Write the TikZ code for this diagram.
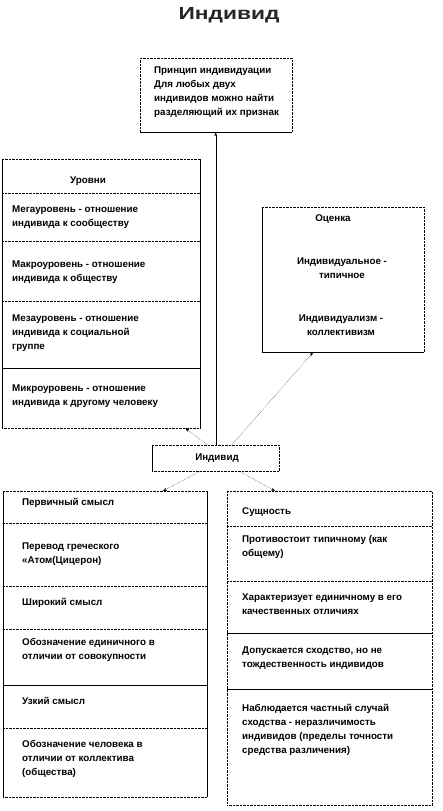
\documentclass[tikz,border=0pt]{standalone}
\usepackage{fontspec}
\setmainfont{Liberation Sans}
\newfontfamily\titlefont[FakeStretch=1.3]{Liberation Sans}
\usetikzlibrary{arrows.meta}

\begin{document}
\begin{tikzpicture}[x=1pt,y=-1pt,>={Stealth[length=4pt,width=3pt]},
    frame/.style={draw,densely dotted,anchor=north west,inner sep=0pt},
    txt/.style={anchor=west,align=left,inner sep=0pt,
        font=\fontsize{9.8}{14}\selectfont\bfseries},
    link/.style={densely dotted,->}]
    \useasboundingbox[fill=white] (0,0) rectangle (442,811);

    \node[font=\titlefont\fontsize{17.5}{20}\selectfont\bfseries,text=black!85] (title) at (229,15) {Индивид};

    % frames
    \node[frame,minimum width=152,minimum height=74] (princip) at (140,58) {};
    \node[frame,minimum width=198,minimum height=269] (levels) at (2,159) {};
    \node[frame,minimum width=162,minimum height=145] (ocenka) at (262,207) {};
    \node[frame,minimum width=127,minimum height=26] (ind) at (152,445) {};
    \node[frame,minimum width=204,minimum height=306] (meaning) at (3,491) {};
    \node[frame,minimum width=205,minimum height=314] (essence) at (227,491) {};

    % solid edges
    \draw (princip.south west) -- (princip.south east);
    \draw (levels.north west) -- (levels.south west);
    \draw (levels.north east) -- (levels.south east);
    \draw (ocenka.north west) -- (ocenka.south west) -- (ocenka.south east);
    \draw (ind.north west) -- (ind.south west);
    \draw (meaning.north west) -- (meaning.south west);
    \draw (meaning.north east) -- (meaning.south east);

    % separators
    \foreach \yy in {193,241,301}{
        \draw[densely dotted] (2,\yy) -- (200,\yy);
    }
    \draw (2,368) -- (200,368);
    \foreach \yy in {523,586,629,728}{
        \draw[densely dotted] (3,\yy) -- (207,\yy);
    }
    \draw (3,685) -- (207,685);
    \foreach \yy in {526,581}{
        \draw[densely dotted] (227,\yy) -- (432,\yy);
    }
    \foreach \yy in {633,689}{
        \draw (227,\yy) -- (432,\yy);
    }

    % texts
    \node[txt] (t1) at (154,92) {Принцип индивидуации\\Для любых двух\\индивидов можно найти\\разделяющий их признак};

    \node[txt,anchor=center] (l0) at (88,181) {Уровни};
    \node[txt] (l1) at (12,217) {Мегауровень - отношение\\индивида к сообществу};
    \node[txt] (l2) at (12,272) {Макроуровень - отношение\\индивида к обществу};
    \node[txt] (l3) at (12,333) {Мезауровень - отношение\\индивида к социальной\\группе};
    \node[txt] (l4) at (12,396) {Микроуровень - отношение\\индивида к другому человеку};

    \node[txt,anchor=center] (o0) at (333,219) {Оценка};
    \node[txt,anchor=center,align=center] (o1) at (342,268) {Индивидуальное -\\типичное};
    \node[txt,anchor=center,align=center] (o2) at (341,325) {Индивидуализм -\\коллективизм};

    \node[txt,anchor=center] (i0) at (217,458) {Индивид};

    \node[txt] (m1) at (22,503) {Первичный смысл};
    \node[txt] (m2) at (22,554) {Перевод греческого\\«Атом(Цицерон)};
    \node[txt] (m3) at (22,603) {Широкий смысл};
    \node[txt] (m4) at (22,650) {Обозначение единичного в\\отличии от совокупности};
    \node[txt] (m5) at (22,701) {Узкий смысл};
    \node[txt] (m6) at (22,759) {Обозначение человека в\\отличии от коллектива\\(общества)};

    \node[txt] (e1) at (242,512) {Сущность};
    \node[txt] (e2) at (242,547) {Противостоит типичному (как\\общему)};
    \node[txt] (e3) at (242,604) {Характеризует единичному в его\\качественных отличиях};
    \node[txt] (e4) at (242,658) {Допускается сходство, но не\\тождественность индивидов};
    \node[txt] (e5) at (242,730) {Наблюдается частный случай\\сходства - неразличимость\\индивидов (пределы точности\\средства различения)};

    % connectors
    \draw[->] (ind.north) -- (ind.north |- princip.south);
    \draw[link] ([xshift=-8]ind.north) -- ([xshift=-15]levels.south east);
    \draw[link] ([xshift=16]ind.north) -- ([xshift=51]ocenka.south west);
    \draw[link] ([xshift=-16]ind.south) -- ([xshift=160]meaning.north west);
    \draw[link] ([xshift=24]ind.south) -- ([xshift=48]essence.north west);
\end{tikzpicture}
\end{document}
